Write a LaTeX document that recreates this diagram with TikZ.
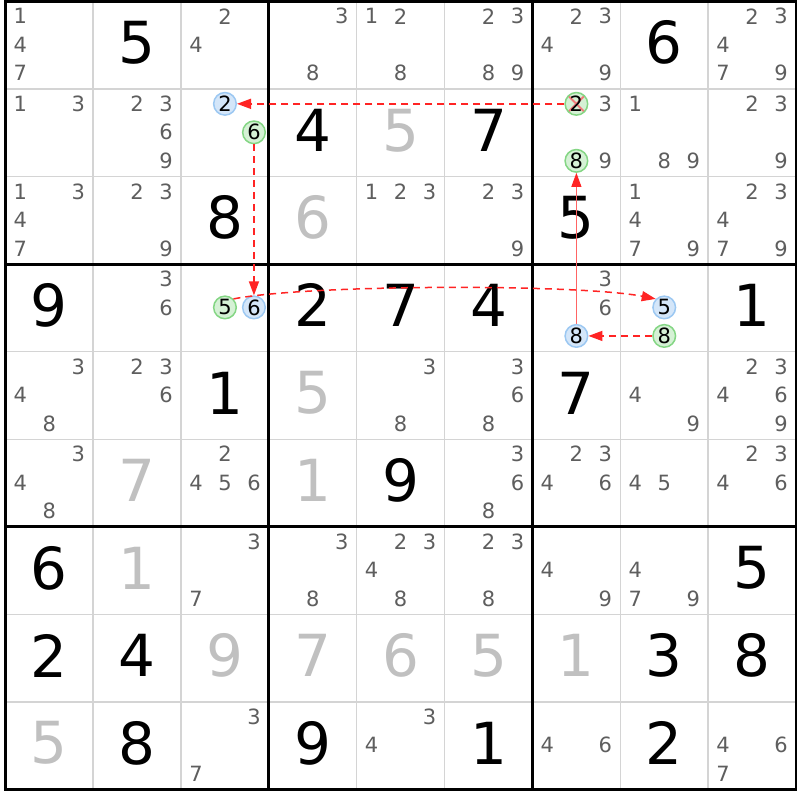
\documentclass[tikz,border=0pt]{standalone}
\usepackage{fontspec}
\setmainfont{DejaVu Sans}
\usetikzlibrary{arrows.meta}

\definecolor{candgray}{HTML}{5E5E5E}
\definecolor{solvedgray}{HTML}{C0C0C0}
\definecolor{thingray}{HTML}{D4D4D4}
\definecolor{bluefill}{HTML}{D4E6F9}
\definecolor{blueline}{HTML}{9CC8F2}
\definecolor{greenfill}{HTML}{D5F1D5}
\definecolor{greenline}{HTML}{84D684}
\definecolor{linkred}{HTML}{FF2424}
\definecolor{solidred}{HTML}{FF6464}
\definecolor{crossred}{HTML}{F27A7A}

% grid origin and cell size (1 unit = 1pt = 1 pixel)
\def\gx{5.3}
\def\gy{1.5}
\def\cw{87.86}
\def\ch{87.55}

\tikzset{
  given/.style={font=\fontsize{58}{60}\selectfont, text=black, inner sep=0},
  solved/.style={given, text=solvedgray},
  cand/.style={font=\fontsize{21}{22}\selectfont, text=candgray, inner sep=0},
  bluecand/.style={cand, text=black, circle, minimum size=22.6pt, inner sep=0,
    draw=blueline, fill=bluefill, line width=1.5pt},
  greencand/.style={bluecand, draw=greenline, fill=greenfill},
  crossgreen/.style={greencand, path picture={
    \draw[crossred, line width=2pt]
      (path picture bounding box.north west) -- (path picture bounding box.south east)
      (path picture bounding box.north east) -- (path picture bounding box.south west);}},
  thinline/.style={thingray, line width=1.5pt},
  thickline/.style={black, line width=2.8pt},
  weaklink/.style={linkred, line width=1.5pt, dash pattern=on 7pt off 5pt,
    -{Triangle[length=14pt, width=10pt]}},
  stronglink/.style={solidred, line width=1pt,
    -{Triangle[length=14pt, width=10pt, color=linkred]}},
}

\begin{document}
\begin{tikzpicture}[x=1pt, y=-1pt]
  \useasboundingbox (0,0) rectangle (800,800);
  \fill[white] (0,0) rectangle (800,800);
  % THIN LINES
  \foreach \i in {1,2,4,5,7,8} {
    \draw[thinline] ({\gx+\i*\cw},\gy) -- ({\gx+\i*\cw},{\gy+9*\ch});
    \draw[thinline] (\gx,{\gy+\i*\ch}) -- ({\gx+9*\cw},{\gy+\i*\ch});
  }
  % THICK LINES
  \foreach \i in {3,6} {
    \draw[thickline] ({\gx+\i*\cw},\gy) -- ({\gx+\i*\cw},{\gy+9*\ch});
    \draw[thickline] (\gx,{\gy+\i*\ch}) -- ({\gx+9*\cw},{\gy+\i*\ch});
  }
  \draw[thickline] (\gx,\gy) rectangle ({\gx+9*\cw},{\gy+9*\ch});
  % GIVEN DIGITS
  \foreach \r/\c/\d in {1/2/5, 1/8/6, 2/4/4, 2/6/7, 3/3/8, 3/7/5, 4/1/9, 4/4/2,
      4/5/7, 4/6/4, 4/9/1, 5/3/1, 5/7/7, 6/5/9, 7/1/6, 7/9/5, 8/1/2, 8/2/4,
      8/8/3, 8/9/8, 9/2/8, 9/4/9, 9/6/1, 9/8/2}
    \node[given] (g\r\c) at ({\gx+(\c-0.5)*\cw},{\gy+(\r-0.5)*\ch-2.5}) {\d};
  % SOLVED DIGITS
  \foreach \r/\c/\d in {2/5/5, 3/4/6, 5/4/5, 6/2/7, 6/4/1, 7/2/1, 8/3/9, 8/4/7,
      8/5/6, 8/6/5, 8/7/1, 9/1/5}
    \node[solved] (s\r\c) at ({\gx+(\c-0.5)*\cw},{\gy+(\r-0.5)*\ch-2.5}) {\d};
  % CANDIDATES
  \foreach \r/\c/\ds in {1/1/{1,4,7}, 1/3/{2,4}, 1/4/{3,8}, 1/5/{1,2,8},
      1/6/{2,3,8,9}, 1/7/{2,3,4,9}, 1/9/{2,3,4,7,9},
      2/1/{1,3}, 2/2/{2,3,6,9}, 2/7/{3,9}, 2/8/{1,8,9}, 2/9/{2,3,9},
      3/1/{1,3,4,7}, 3/2/{2,3,9}, 3/5/{1,2,3}, 3/6/{2,3,9}, 3/8/{1,4,7,9},
      3/9/{2,3,4,7,9},
      4/2/{3,6}, 4/7/{3,6},
      5/1/{3,4,8}, 5/2/{2,3,6}, 5/5/{3,8}, 5/6/{3,6,8}, 5/8/{4,9},
      5/9/{2,3,4,6,9},
      6/1/{3,4,8}, 6/3/{2,4,5,6}, 6/6/{3,6,8}, 6/7/{2,3,4,6}, 6/8/{4,5},
      6/9/{2,3,4,6},
      7/3/{3,7}, 7/4/{3,8}, 7/5/{2,3,4,8}, 7/6/{2,3,8}, 7/7/{4,9}, 7/8/{4,7,9},
      9/3/{3,7}, 9/5/{3,4}, 9/7/{4,6}, 9/9/{4,6,7}} {
    \foreach \d in \ds {
      \node[cand] (c\r\c\d) at ({\gx+(\c-0.5)*\cw+(mod(\d-1,3)-1)*29},
        {\gy+(\r-0.5)*\ch+(int((\d-1)/3)-1)*28.5-0.5}) {\d};
    }
  }
  % CHAIN CANDIDATES
  \foreach \r/\c/\d/\nm/\kind in {2/3/2/two23/bluecand, 2/3/6/six23/greencand,
      2/7/2/two27/crossgreen, 2/7/8/eight27/greencand, 4/3/5/five43/greencand,
      4/3/6/six43/bluecand, 4/7/8/eight47/bluecand, 4/8/5/five48/bluecand,
      4/8/8/eight48/greencand} {
    \node[\kind] (\nm) at ({\gx+(\c-0.5)*\cw+(mod(\d-1,3)-1)*29},
      {\gy+(\r-0.5)*\ch+(int((\d-1)/3)-1)*28.5-0.5}) {\d};
  }
  % LINKS
  \draw[weaklink] (two27) -- (two23);
  \draw[weaklink] (six23) -- (six43);
  \draw[weaklink] (five43.45) .. controls (310,284) and (580,284) .. (five48.135);
  \draw[weaklink] (eight48) -- (eight47);
  \draw[stronglink] (eight47) -- (eight27);
\end{tikzpicture}
\end{document}
